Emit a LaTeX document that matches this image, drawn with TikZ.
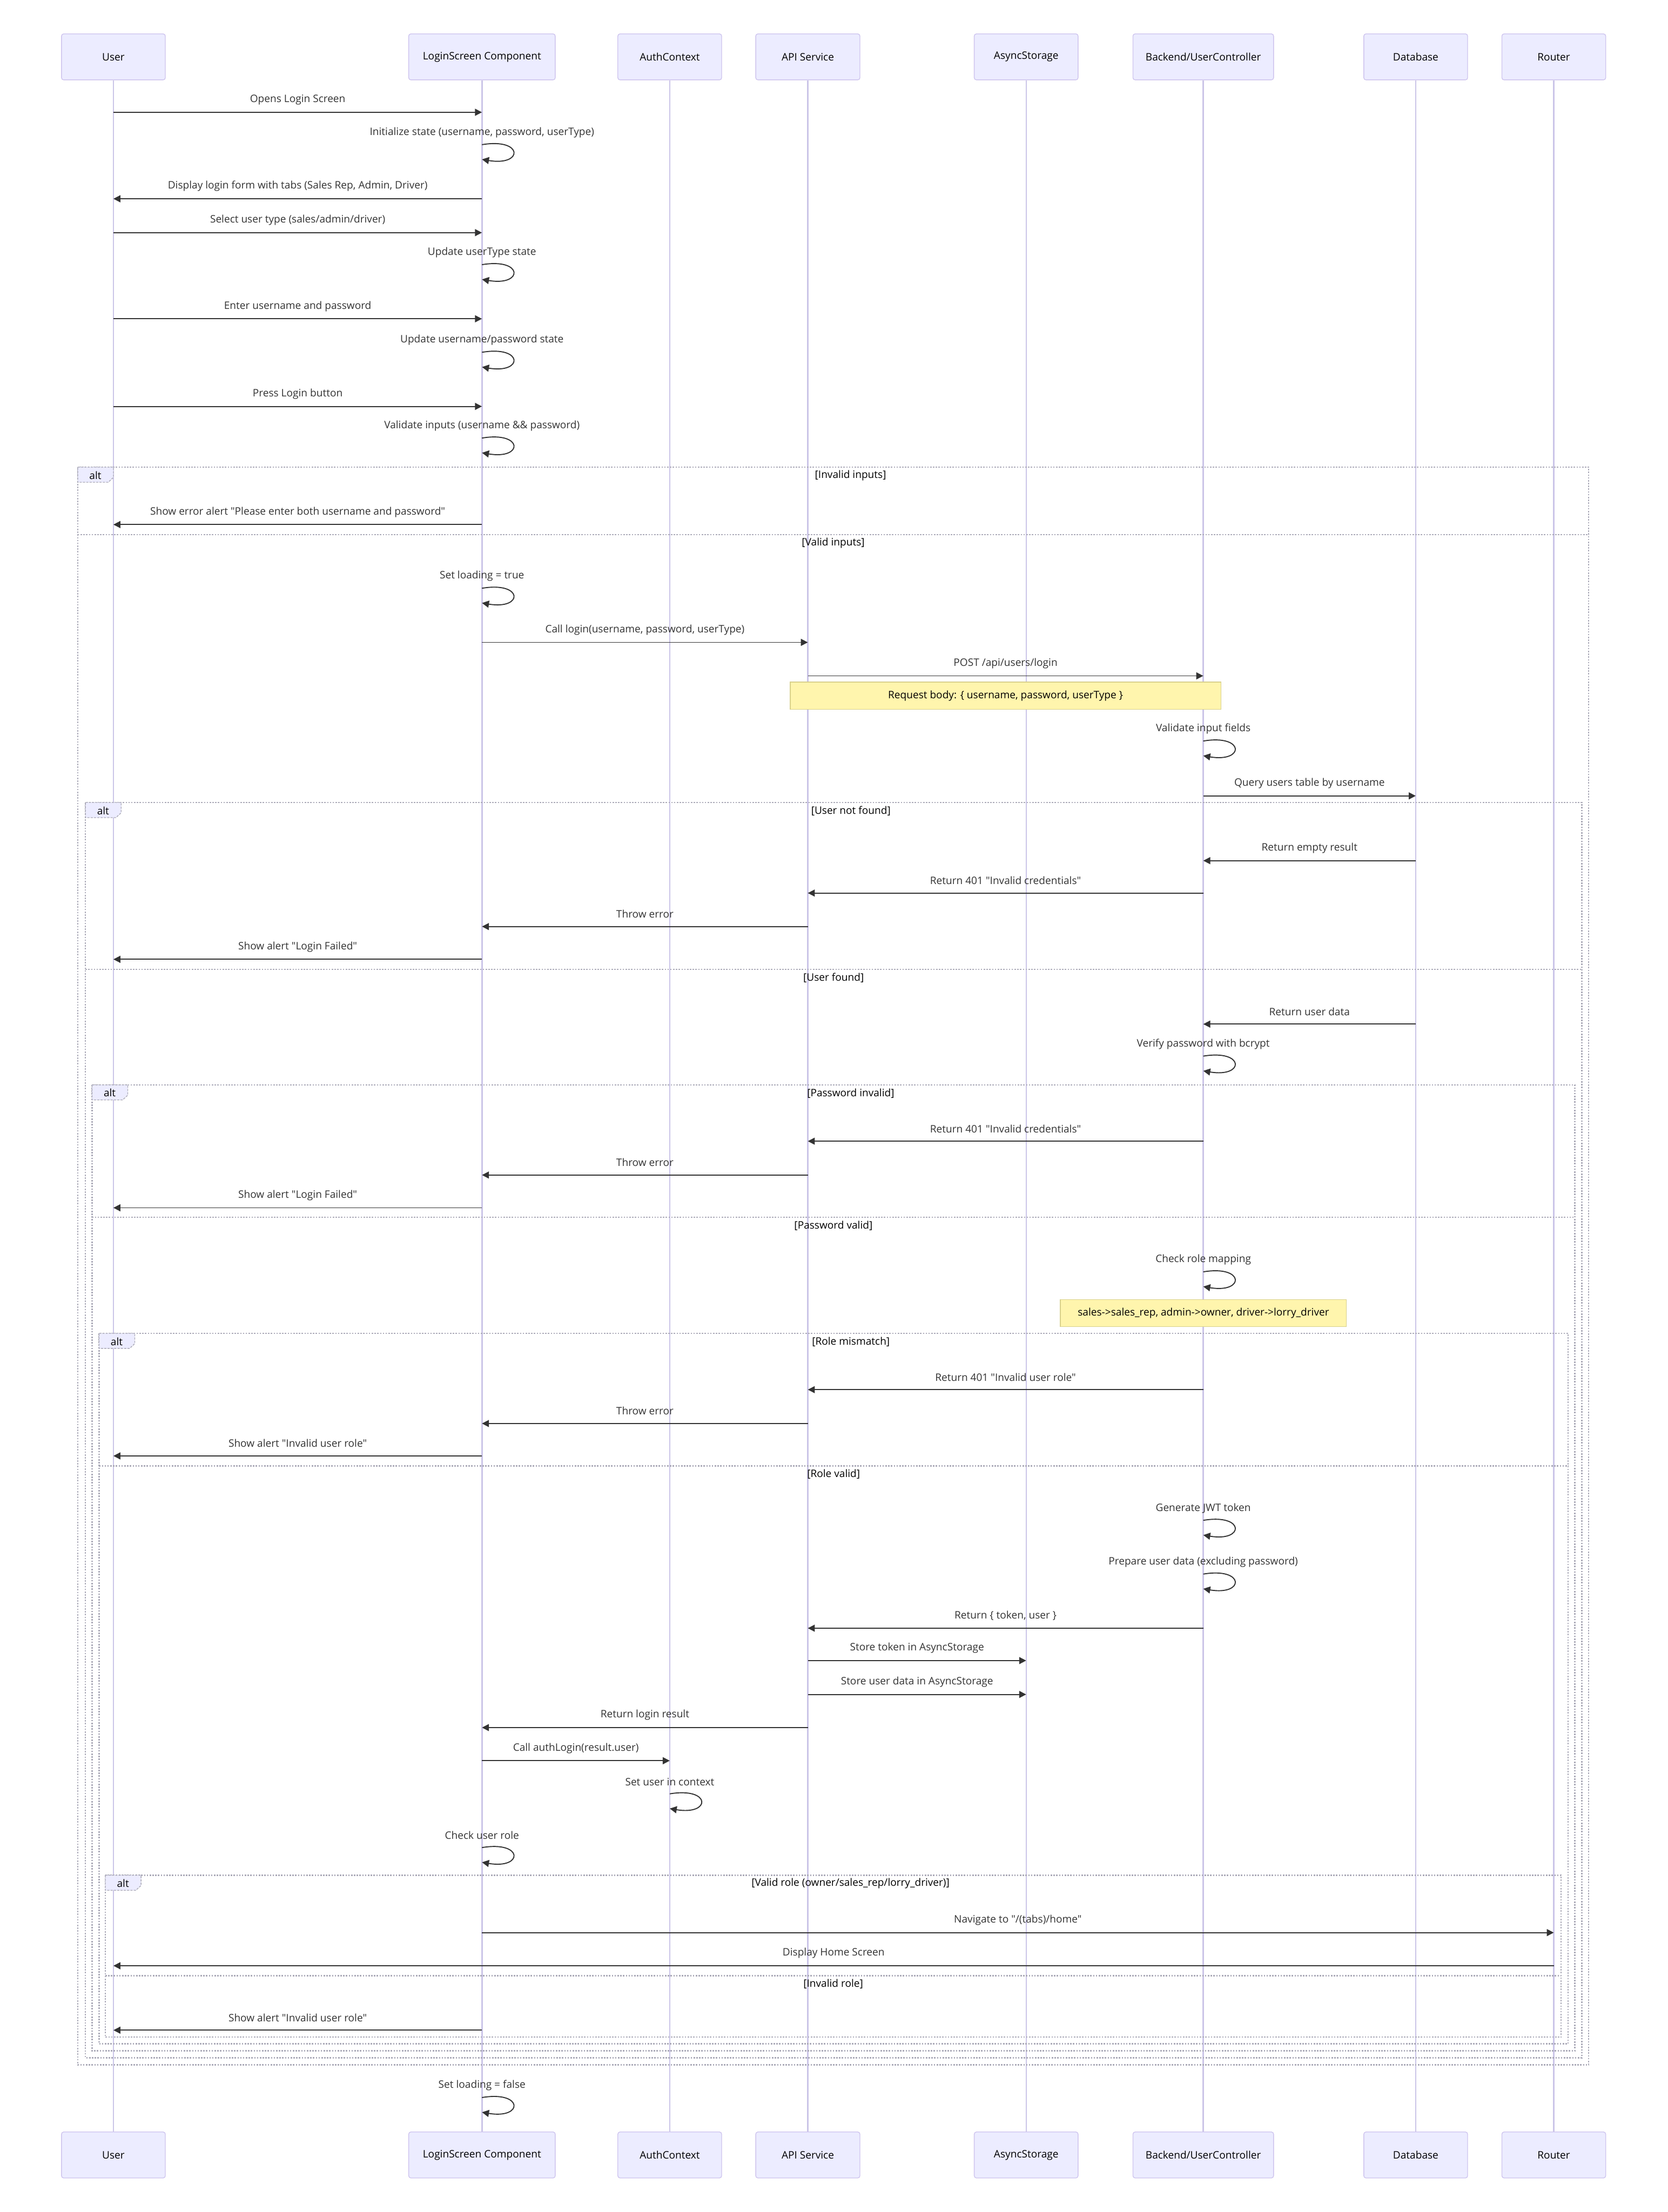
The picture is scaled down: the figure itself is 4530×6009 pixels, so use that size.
\documentclass[tikz,border=0pt]{standalone}
\usepackage{fontspec}
\newfontfamily\dfont{Open Sans}
\usetikzlibrary{arrows.meta}
\definecolor{actfill}{HTML}{ECECFF}
\definecolor{actborder}{HTML}{CEC4EE}
\definecolor{lifecol}{HTML}{CBC5E8}
\definecolor{loopcol}{HTML}{ABAAB8}
\definecolor{notefill}{HTML}{FFF5AD}
\definecolor{noteborder}{HTML}{D8D08C}
\definecolor{msgcol}{HTML}{333333}
\tikzset{
  actor/.style={draw=actborder, line width=1pt, fill=actfill, rounded corners=3pt,
    minimum height=62.5pt, inner sep=0pt, font=\dfont\fontsize{14}{16}\selectfont, text=black},
  lifeline/.style={draw=lifecol, line width=1.8pt},
  msgline/.style={draw=msgcol, line width=1.4pt, -{Triangle[length=9.5pt,width=9.5pt]}},
  msglabel/.style={font=\dfont\fontsize{14}{16}\selectfont, text=msgcol, inner sep=0pt},
  loopline/.style={draw=loopcol, line width=1.7pt, dash pattern=on 1.9pt off 1.9pt},
  alttab/.style={draw=loopcol, line width=1pt, dash pattern=on 3pt off 1.5pt, fill=actfill},
  alttext/.style={font=\dfont\fontsize{14}{16}\selectfont, text=black, inner sep=0pt},
  alttitle/.style={font=\dfont\fontsize{14}{16}\selectfont, text=black, inner sep=0pt},
  notebox/.style={draw=noteborder, line width=1pt, fill=notefill, minimum height=37pt,
    inner sep=0pt, font=\dfont\fontsize{14}{16}\selectfont, text=black}
}
\newcommand{\seqmsg}[5]{%
  \coordinate (#1-s) at (#2,#4);
  \coordinate (#1-e) at (#3,#4);
  \draw[msgline] (#1-s) -- (#1-e);
  \node[msglabel] (#1-l) at ({(#2+#3)/2},#4-34) {#5};
}
\newcommand{\seqself}[4]{%
  \node[msglabel] (#1-l) at (#2,#3) {#4};
  \coordinate (#1-s) at (#2,#3+33);
  \coordinate (#1-e) at (#2,#3+73);
  \draw[msgline] (#1-s) .. controls +(113,-19) and +(113,19) .. (#1-e);
}
\newcommand{\altframe}[6]{%
  \coordinate (#1-nw) at (#2,#3);
  \coordinate (#1-se) at (#4,#5);
  \draw[loopline] (#1-nw) rectangle (#1-se);
  \filldraw[alttab] (#2,#3) -- ++(97,0) -- ++(0,28) -- ++(-14,13) -- ++(-83,0) -- cycle;
  \node[alttext] (#1-t) at (#2+48,#3+22) {alt};
  \node[alttitle] (#1-h) at ({(#2+#4)/2+47},#3+23) {#6};
}
\newcommand{\altdiv}[5]{%
  \coordinate (#1-a) at (#2,#4);
  \coordinate (#1-b) at (#3,#4);
  \draw[loopline] (#1-a) -- (#1-b);
  \node[alttitle] (#1-h) at ({(#2+#3)/2},#4+23) {#5};
}
\def\xU{308}
\def\xL{1309}
\def\xC{1819}
\def\xA{2194}
\def\xS{2787}
\def\xB{3268}
\def\xD{3845}
\def\xR{4220}
\begin{document}
\begin{tikzpicture}[x=0.5pt,y=-0.5pt]
\fill[white] (0,0) rectangle (4530,6009);
\useasboundingbox (0,0) rectangle (4530,6009);

% actors top
\node[actor, minimum width=141pt] (uT) at (\xU,154.5) {User};
\node[actor, minimum width=199pt] (lT) at (\xL,154.5) {LoginScreen Component};
\node[actor, minimum width=141pt] (cT) at (\xC,154.5) {AuthContext};
\node[actor, minimum width=141.5pt] (aT) at (\xA,154.5) {API Service};
\node[actor, minimum width=141pt] (sT) at (\xS,154.5) {AsyncStorage};
\node[actor, minimum width=191pt] (bT) at (\xB,154.5) {Backend/UserController};
\node[actor, minimum width=141pt] (dT) at (\xD,154.5) {Database};
\node[actor, minimum width=141pt] (rT) at (\xR,154.5) {Router};
% actors bottom
\node[actor, minimum width=141pt] (uB) at (\xU,5854) {User};
\node[actor, minimum width=199pt] (lB) at (\xL,5854) {LoginScreen Component};
\node[actor, minimum width=141pt] (cB) at (\xC,5854) {AuthContext};
\node[actor, minimum width=141.5pt] (aB) at (\xA,5854) {API Service};
\node[actor, minimum width=141pt] (sB) at (\xS,5854) {AsyncStorage};
\node[actor, minimum width=191pt] (bB) at (\xB,5854) {Backend/UserController};
\node[actor, minimum width=141pt] (dB) at (\xD,5854) {Database};
\node[actor, minimum width=141pt] (rB) at (\xR,5854) {Router};
% lifelines
\foreach \n in {u,l,c,a,s,b,d,r}{\draw[lifeline] (\n T.south) -- (\n B.north);}

% alt frames (outer to inner)
\altframe{alt1}{211}{1269}{4315}{5609}{[Invalid inputs]}
\altdiv{d1}{211}{4315}{1452}{[Valid inputs]}
\altframe{alt2}{232}{2180}{4296}{5590}{[User not found]}
\altdiv{d2}{232}{4296}{2633}{[User found]}
\altframe{alt3}{250}{2947}{4277}{5571}{[Password invalid]}
\altdiv{d3}{250}{4277}{3307}{[Password valid]}
\altframe{alt4}{269}{3622}{4259}{5552}{[Role mismatch]}
\altdiv{d4}{269}{4259}{3982}{[Role valid]}
\altframe{alt5}{286}{5094}{4240}{5534}{[Valid role (owner/sales\_rep/lorry\_driver)]}
\altdiv{d5}{286}{4240}{5367}{[Invalid role]}

% messages
\seqmsg{m1}{\xU}{\xL}{305}{Opens Login Screen}
\seqself{m2}{\xL}{360}{Initialize state (username, password, userType)}
\seqmsg{m3}{\xL}{\xU}{540}{Display login form with tabs (Sales Rep, Admin, Driver)}
\seqmsg{m4}{\xU}{\xL}{632}{Select user type (sales/admin/driver)}
\seqself{m5}{\xL}{686}{Update userType state}
\seqmsg{m6}{\xU}{\xL}{866}{Enter username and password}
\seqself{m7}{\xL}{924}{Update username/password state}
\seqmsg{m8}{\xU}{\xL}{1104}{Press Login button}
\seqself{m9}{\xL}{1157}{Validate inputs (username \&\& password)}
\seqmsg{m10}{\xL}{\xU}{1425}{Show error alert "Please enter both username and password"}
\seqself{m11}{\xL}{1565}{Set loading = true}
\seqmsg{m12}{\xL}{\xA}{1745}{Call login(username, password, userType)}
\seqmsg{m13}{\xA}{\xB}{1836}{POST /api/users/login}
\node[notebox, minimum width=585pt] (n1) at (2731,1890) {Request body: \{ username, password, userType \}};
\seqself{m14}{\xB}{1980}{Validate input fields}
\seqmsg{m15}{\xB}{\xD}{2162}{Query users table by username}
\seqmsg{m16}{\xD}{\xB}{2338}{Return empty result}
\seqmsg{m17}{\xB}{\xA}{2426}{Return 401 "Invalid credentials"}
\seqmsg{m18}{\xA}{\xL}{2517}{Throw error}
\seqmsg{m19}{\xL}{\xU}{2606}{Show alert "Login Failed"}
\seqmsg{m20}{\xD}{\xB}{2782}{Return user data}
\seqself{m21}{\xB}{2836}{Verify password with bcrypt}
\seqmsg{m22}{\xB}{\xA}{3100}{Return 401 "Invalid credentials"}
\seqmsg{m23}{\xA}{\xL}{3192}{Throw error}
\seqmsg{m24}{\xL}{\xU}{3281}{Show alert "Login Failed"}
\seqself{m25}{\xB}{3422}{Check role mapping}
\node[notebox, minimum width=388.5pt] (n2) at (3268.5,3567) {sales->sales\_rep, admin->owner, driver->lorry\_driver};
\seqmsg{m26}{\xB}{\xA}{3775}{Return 401 "Invalid user role"}
\seqmsg{m27}{\xA}{\xL}{3867}{Throw error}
\seqmsg{m28}{\xL}{\xU}{3955}{Show alert "Invalid user role"}
\seqself{m29}{\xB}{4097}{Generate JWT token}
\seqself{m30}{\xB}{4243}{Prepare user data (excluding password)}
\seqmsg{m31}{\xB}{\xA}{4423}{Return \{ token, user \}}
\seqmsg{m32}{\xA}{\xS}{4511}{Store token in AsyncStorage}
\seqmsg{m33}{\xA}{\xS}{4603}{Store user data in AsyncStorage}
\seqmsg{m34}{\xA}{\xL}{4693}{Return login result}
\seqmsg{m35}{\xL}{\xC}{4783}{Call authLogin(result.user)}
\seqself{m36}{\xC}{4840}{Set user in context}
\seqself{m37}{\xL}{4986}{Check user role}
\seqmsg{m38}{\xL}{\xR}{5250}{Navigate to "/(tabs)/home"}
\seqmsg{m39}{\xR}{\xU}{5340}{Display Home Screen}
\seqmsg{m40}{\xL}{\xU}{5515}{Show alert "Invalid user role"}
\seqself{m41}{\xL}{5665}{Set loading = false}
\end{tikzpicture}
\end{document}
